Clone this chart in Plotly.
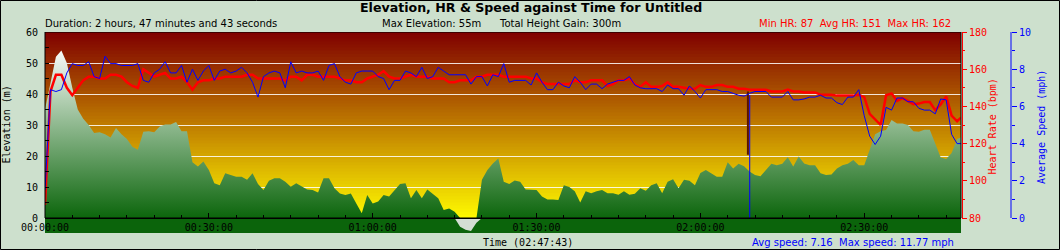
import numpy as np
import plotly.graph_objects as go

# ---------------- data ----------------
DURATION_S = 10063          # 02:47:43
SAMPLE_S = 60               # one reading per minute, last one at the end time

elevation_m = [
    35, 44, 52, 54, 50, 42, 35, 32, 30, 27.4,
    27.7, 27, 26, 29, 27, 25.5, 23, 22, 27.8, 28,
    27.7, 29.5, 30.2, 30.2, 31, 28, 28, 18, 16.6, 18.2,
    15.5, 11.2, 10.6, 14.4, 13.9, 13.3, 13.3, 12.3, 14.4, 11,
    9, 12, 12.8, 12.8, 11.7, 10.1, 11.2, 10.1, 9.2, 9.0,
    8.2, 12.8, 12.8, 9.6, 7.9, 7.4, 7.9, 4.7, 1.5, 7.4,
    4.7, 5.3, 7.4, 6.9, 9.0, 11, 11.2, 6.4, 9.0, 6.4,
    9.2, 7.9, 6.4, 2.6, 3.1, 2.0, -2.8, -3.8, -4.2, -1.5,
    12.3, 15.5, 17.6, 19.2, 11.7, 11, 12.1, 11.7, 9.2, 9.2,
    9, 6.9, 6.0, 6.0, 5.8, 10.6, 10, 8.6, 5, 8.6,
    8, 8.6, 9, 8, 8, 7.5, 8.6, 7.5, 7.8, 9.6,
    8.8, 10.6, 11.2, 8, 11.7, 12.5, 9.6, 12.3, 12, 10.6,
    14.5, 15.5, 14.5, 13.3, 13.3, 18, 16, 17.5, 16.7, 15,
    13.9, 13.5, 15.5, 17.5, 17, 17.5, 19.6, 16.6, 19.8, 17.6,
    17, 17, 14.4, 13.9, 14, 16, 17, 17.5, 18.7, 17,
    17, 22, 27, 28, 28.4, 31.6, 30.5, 30.5, 30, 28,
    27.8, 28.5, 28.5, 24, 19.5, 19, 21, 25.5, 26,
]

heart_rate_bpm = [
    87, 148, 157, 157, 150, 146, 150, 154, 156, 156,
    155, 155, 157, 157, 156, 153, 151, 150, 160, 158,
    156, 157, 158, 155, 155, 156, 153, 149, 153, 154,
    154, 155, 155, 156, 156, 156, 156, 157, 157, 155,
    155, 155, 155, 155, 154, 156, 156, 154, 157, 157,
    156, 156, 156, 156, 155, 154, 154, 153, 153, 155,
    156, 157, 159, 156, 155, 155, 156, 157, 156, 156,
    156, 155, 155, 155, 153, 153, 154, 154, 154, 156,
    156, 157, 157, 157, 156, 156, 156, 156, 156, 155,
    155, 153, 152, 152, 152, 152, 152, 154, 153, 153,
    154, 154, 154, 151, 152, 154, 154, 155, 152, 150.5,
    153, 150.5, 150.5, 151, 153, 150.5, 150.5, 150, 149.5, 149.5,
    151.5, 150.5, 150.5, 151.5, 151.5, 150.5, 150.5, 149.5, 149.5, 149,
    149, 149, 149, 148, 148, 148, 149, 148, 148, 147.5,
    147.5, 147.5, 146.3, 146.3, 146.3, 145.8, 145.8, 145.8, 145.8, 146.3,
    145, 136, 133, 130, 146, 147, 143, 144.5, 143, 141.2,
    141.5, 142.4, 142.4, 138, 141, 145.4, 135, 132, 134,
]

speed_mph = [
    1.5, 6.9, 6.8, 6.9, 7.8, 8.3, 8.2, 8.2, 8.4, 7.6,
    7.5, 8.7, 8.3, 8.3, 8.2, 8.2, 8.2, 8.3, 7.4, 7.3,
    7.8, 8.0, 8.4, 7.8, 7.8, 8.2, 7.3, 8.0, 7.4, 7.9,
    8.2, 7.4, 7.9, 8.0, 7.8, 7.9, 8.1, 7.8, 7.3, 6.5,
    7.6, 7.8, 7.9, 7.8, 7.0, 8.4, 7.8, 7.9, 7.8, 7.8,
    7.9, 7.4, 8.2, 8.3, 7.6, 7.3, 7.2, 7.8, 7.9, 7.9,
    7.9, 7.6, 7.5, 6.9, 7.4, 7.4, 7.9, 7.8, 7.6, 8.1,
    7.5, 7.6, 8.1, 7.9, 7.7, 7.7, 7.7, 7.7, 7.2, 7.6,
    7.6, 7.1, 7.7, 7.6, 8.3, 7.3, 7.4, 7.4, 7.4, 7.15,
    7.8, 7.3, 6.9, 6.9, 7.3, 7.1, 7.0, 7.6, 7.3, 6.9,
    7.2, 7.2, 6.95, 7.2, 7.3, 7.4, 7.4, 7.6, 7.15, 7.0,
    6.95, 6.95, 6.95, 6.8, 7.15, 6.95, 6.95, 6.6, 7.1, 6.8,
    6.45, 6.9, 6.9, 6.9, 6.8, 6.8, 6.7, 6.6, 6.55, 6.7,
    6.8, 6.8, 6.8, 6.5, 6.5, 6.5, 6.8, 6.35, 6.35, 6.4,
    6.5, 6.5, 6.6, 6.45, 6.45, 6.2, 6.1, 6.5, 6.5, 6.9,
    5.5, 4.4, 3.95, 4.4, 5.95, 5.8, 6.45, 6.45, 6.25, 6.25,
    5.9, 5.8, 5.8, 5.6, 6.4, 6.35, 4.5, 4.0, 4.0,
]

# a pause in the recording
pause_time_s = 7722
pause_hr_bpm = [148, 114]
pause_speed_mph = [6.6, 0]

x_tick_vals = [0, 1800, 3600, 5400, 7200, 9000]
x_tick_text = ["00:00:00", "00:30:00", "01:00:00", "01:30:00", "02:00:00", "02:30:00"]
x_minor_vals = list(range(300, DURATION_S, 300))
elev_ticks = [0, 10, 20, 30, 40, 50, 60]
elev_minor = [5, 15, 25, 35, 45, 55]
hr_ticks = [80, 100, 120, 140, 160, 180]
hr_minor = [90, 110, 130, 150, 170]
spd_ticks = [0, 2, 4, 6, 8, 10]
spd_minor = [1, 3, 5, 7, 9]

title_text = "Elevation, HR & Speed against Time for Untitled"
duration_text = "Duration: 2 hours, 47 minutes and 43 seconds"
maxelev_text = "Max Elevation: 55m"
gain_text = "Total Height Gain: 300m"
hr_text = "Min HR: 87\u00a0 Avg HR: 151\u00a0 Max HR: 162"
speed_text = "Avg speed: 7.16\u00a0 Max speed: 11.77 mph"
time_text = "Time (02:47:43)"

# ---------------- layout geometry (pixels) ----------------
W, H = 1060, 250
PL, PR, PT, PB = 45, 961, 32, 218   # frame of the chart
BAND = 233                          # bottom of the strip below the time axis
SPX = 1011                          # speed axis position
BG = "#cde0cd"
MONO = "DejaVu Sans Mono"
SANS = "DejaVu Sans"

paper_w = SPX - PL
paper_h = BAND - PT


def pxx(px):
    return (px - PL) / paper_w


def pxy(py):
    return (BAND - py) / paper_h


below = (BAND - PB) / (PB - PT)
elev_range = [-60 * below, 60]
hr_range = [80 - 100 * below, 180]
spd_range = [-10 * below, 10]

time_s = np.append(np.arange(len(elevation_m) - 1) * SAMPLE_S, DURATION_S)
elev = np.array(elevation_m, dtype=float)

fig = go.Figure()
fig.add_trace(go.Scatter(
    x=time_s, y=np.maximum(elev, 0), mode="lines", line=dict(width=0),
    fill="tozeroy",
    fillgradient=dict(type="vertical", colorscale=[[0, "#0c660c"], [1, "#f7faf7"]],
                      start=0, stop=max(elevation_m)),
    yaxis="y", hoverinfo="skip", showlegend=False))
fig.add_trace(go.Scatter(
    x=time_s, y=np.minimum(elev, 0), mode="lines", line=dict(width=0),
    fill="tozeroy", fillcolor="#d3ded3", yaxis="y", hoverinfo="skip", showlegend=False))
fig.add_trace(go.Scatter(
    x=time_s, y=heart_rate_bpm, mode="lines", line=dict(color="#ff0000", width=2.5),
    yaxis="y2", showlegend=False))
fig.add_trace(go.Scatter(
    x=[pause_time_s] * 2, y=pause_hr_bpm, mode="lines", line=dict(color="#5a1400", width=2),
    yaxis="y2", showlegend=False))
fig.add_trace(go.Scatter(
    x=time_s, y=speed_mph, mode="lines", line=dict(color="#0000ff", width=1),
    yaxis="y3", showlegend=False))
fig.add_trace(go.Scatter(
    x=[pause_time_s + 20] * 2, y=pause_speed_mph, mode="lines", line=dict(color="#0000ff", width=1),
    yaxis="y3", showlegend=False))

shapes = []
# background gradient dark red -> yellow (overlapping bands avoid seams)
top = np.array([128, 0, 0])
bot = np.array([255, 250, 0])
for e in range(60):
    f = (e + 0.5) / 60
    c = bot + (top - bot) * f
    shapes.append(dict(type="rect", xref="x domain", yref="y", x0=0, x1=1, y0=e,
                       y1=min(e + 1.6, 60),
                       fillcolor="rgb(%d,%d,%d)" % tuple(c.astype(int)), line=dict(width=0),
                       layer="below"))
# dark strip below the time axis
shapes.append(dict(type="rect", xref="x domain", yref="y", x0=0, x1=1, y0=elev_range[0], y1=0,
                   fillcolor="#0b640b", line=dict(width=0), layer="below"))
# frame
shapes.append(dict(type="rect", xref="x domain", yref="y", x0=0, x1=1, y0=0, y1=60,
                   line=dict(color="black", width=1), layer="above"))
# HR axis line
shapes.append(dict(type="line", xref="x domain", yref="y2", xsizemode="pixel", xanchor=1,
                   x0=1.5, x1=1.5, y0=80, y1=180, line=dict(color="#ff0000", width=1)))
# speed axis line
shapes.append(dict(type="line", xref="paper", yref="y3", x0=1, x1=1, y0=0, y1=10,
                   line=dict(color="#0000ff", width=1)))
# outer border
shapes.append(dict(type="rect", xref="paper", yref="paper", x0=pxx(0.5), x1=pxx(W - 0.5),
                   y0=pxy(H - 0.5), y1=pxy(0.5), line=dict(color="black", width=1)))

ann = []


def text(t, x, y, xanchor="left", size=10, color="black", family=SANS, angle=0):
    ann.append(dict(text=t, x=pxx(x), y=pxy(y), xref="paper", yref="paper", showarrow=False,
                    xanchor=xanchor, yanchor="middle", textangle=angle,
                    font=dict(family=family, size=size, color=color)))


text("<b>" + title_text + "</b>", 531, 7, "center", size=12.6)
text(duration_text, 43, 23.5)
text(maxelev_text, 380, 23.5)
text(gain_text, 497, 23.5)
text(hr_text, 953, 23.5, "right", color="#ff0000")
text(time_text, 528, 242.5, "center", family=MONO)
text(speed_text, 750, 242.5, color="#0000ff")
text("Elevation (m)", 5.5, 125, "center", family=MONO, angle=-90)
text("Heart Rate (bpm)", 992.5, 127, "center", family=MONO, color="#ff0000", angle=-90)
text("Average Speed (mph)", 1042, 127, "center", family=MONO, color="#0000ff", angle=-90)

fig.update_layout(
    width=W, height=H, margin=dict(l=PL, r=W - SPX, t=PT, b=H - BAND, pad=0),
    paper_bgcolor=BG, plot_bgcolor=BG, showlegend=False,
    shapes=shapes, annotations=ann,
    xaxis=dict(domain=[0, (PR - PL) / paper_w], range=[0, DURATION_S], anchor="free",
               position=pxy(PB), showgrid=False, zeroline=False, showline=True,
               linecolor="black", linewidth=1, tickmode="array", tickvals=x_tick_vals,
               ticktext=x_tick_text, ticks="inside", ticklen=5, tickcolor="black",
               minor=dict(tickmode="array", tickvals=x_minor_vals, ticks="inside", ticklen=3,
                          tickcolor="black", showgrid=False),
               tickfont=dict(family=MONO, size=10, color="black"), fixedrange=True),
    yaxis=dict(domain=[0, 1], range=elev_range, anchor="x", showline=False, zeroline=False,
               tickmode="array", tickvals=elev_ticks, ticks="inside", ticklen=4,
               tickcolor="black", showgrid=True, gridcolor="rgba(255,255,255,0.85)",
               gridwidth=1,
               minor=dict(tickmode="array", tickvals=elev_minor, ticks="inside", ticklen=4,
                          tickcolor="black", showgrid=False),
               tickfont=dict(family=MONO, size=10, color="black"), ticklabelstandoff=6,
               fixedrange=True),
    yaxis2=dict(overlaying="y", side="right", anchor="x", range=hr_range, showline=False,
                zeroline=False, showgrid=False, tickmode="array", tickvals=hr_ticks,
                ticks="outside", ticklen=5, tickcolor="#ff0000",
                minor=dict(tickmode="array", tickvals=hr_minor, ticks="outside", ticklen=3,
                           tickcolor="#ff0000", showgrid=False),
                tickfont=dict(family=MONO, size=10, color="#ff0000"), fixedrange=True),
    yaxis3=dict(overlaying="y", side="right", anchor="free", position=1, range=spd_range,
                showline=False, zeroline=False, showgrid=False, tickmode="array",
                tickvals=spd_ticks, ticks="outside", ticklen=5, tickcolor="#0000ff",
                minor=dict(tickmode="array", tickvals=spd_minor, ticks="outside", ticklen=3,
                           tickcolor="#0000ff", showgrid=False),
                tickfont=dict(family=MONO, size=10, color="#0000ff"), fixedrange=True),
)

fig.write_html("out.html", config={"displayModeBar": False})
